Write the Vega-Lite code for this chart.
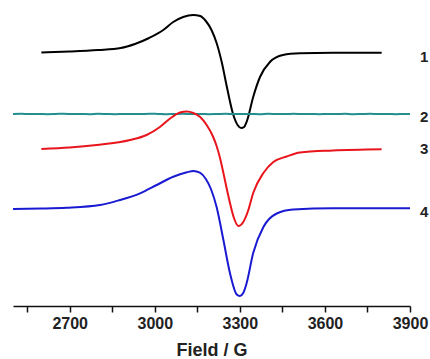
{
  "$schema": "https://vega.github.io/schema/vega-lite/v6.json",
  "width": 397,
  "height": 306,
  "autosize": {"type": "none"},
  "padding": {"left": 13, "top": 0, "right": 20, "bottom": 53},
  "background": "white",
  "config": {"view": {"stroke": null}, "font": "Liberation Sans"},
  "datasets": {
    "spectra": [
      {"s": "1", "f": 2600, "v": 253.5}, {"s": "1", "f": 2700, "v": 254.5}, {"s": "1", "f": 2800, "v": 256}, {"s": "1", "f": 2880, "v": 258}, {"s": "1", "f": 2930, "v": 262}, {"s": "1", "f": 2980, "v": 268}, {"s": "1", "f": 3030, "v": 276}, {"s": "1", "f": 3065, "v": 284}, {"s": "1", "f": 3100, "v": 289}, {"s": "1", "f": 3135, "v": 291}, {"s": "1", "f": 3160, "v": 290}, {"s": "1", "f": 3180, "v": 285}, {"s": "1", "f": 3200, "v": 276}, {"s": "1", "f": 3218, "v": 263}, {"s": "1", "f": 3236, "v": 244}, {"s": "1", "f": 3255, "v": 218}, {"s": "1", "f": 3276, "v": 192}, {"s": "1", "f": 3292, "v": 181}, {"s": "1", "f": 3305, "v": 178}, {"s": "1", "f": 3315, "v": 179}, {"s": "1", "f": 3325, "v": 185}, {"s": "1", "f": 3347, "v": 209}, {"s": "1", "f": 3371, "v": 229}, {"s": "1", "f": 3406, "v": 244}, {"s": "1", "f": 3452, "v": 251}, {"s": "1", "f": 3512, "v": 252.7}, {"s": "1", "f": 3628, "v": 253.3}, {"s": "1", "f": 3800, "v": 253.3},
      {"s": "2", "f": 2500, "v": 192.0}, {"s": "2", "f": 2530, "v": 192.2}, {"s": "2", "f": 2560, "v": 191.9}, {"s": "2", "f": 2590, "v": 192.1}, {"s": "2", "f": 2620, "v": 191.8}, {"s": "2", "f": 2650, "v": 192.0}, {"s": "2", "f": 2680, "v": 192.3}, {"s": "2", "f": 2710, "v": 191.9}, {"s": "2", "f": 2740, "v": 192.1}, {"s": "2", "f": 2770, "v": 191.8}, {"s": "2", "f": 2800, "v": 192.2}, {"s": "2", "f": 2830, "v": 192.0}, {"s": "2", "f": 2860, "v": 191.8}, {"s": "2", "f": 2890, "v": 192.1}, {"s": "2", "f": 2920, "v": 192.0}, {"s": "2", "f": 2950, "v": 191.9}, {"s": "2", "f": 2980, "v": 192.3}, {"s": "2", "f": 3010, "v": 192.1}, {"s": "2", "f": 3040, "v": 191.8}, {"s": "2", "f": 3070, "v": 192.0}, {"s": "2", "f": 3100, "v": 192.2}, {"s": "2", "f": 3130, "v": 191.9}, {"s": "2", "f": 3160, "v": 192.1}, {"s": "2", "f": 3190, "v": 191.8}, {"s": "2", "f": 3220, "v": 192.0}, {"s": "2", "f": 3250, "v": 192.2}, {"s": "2", "f": 3280, "v": 191.9}, {"s": "2", "f": 3310, "v": 192.1}, {"s": "2", "f": 3340, "v": 192.0}, {"s": "2", "f": 3370, "v": 191.8}, {"s": "2", "f": 3400, "v": 192.2}, {"s": "2", "f": 3430, "v": 192.0}, {"s": "2", "f": 3460, "v": 191.9}, {"s": "2", "f": 3490, "v": 192.3}, {"s": "2", "f": 3520, "v": 191.9}, {"s": "2", "f": 3550, "v": 192.1}, {"s": "2", "f": 3580, "v": 191.8}, {"s": "2", "f": 3610, "v": 192.1}, {"s": "2", "f": 3640, "v": 192.0}, {"s": "2", "f": 3670, "v": 192.2}, {"s": "2", "f": 3700, "v": 191.8}, {"s": "2", "f": 3730, "v": 192.0}, {"s": "2", "f": 3760, "v": 192.2}, {"s": "2", "f": 3790, "v": 191.9}, {"s": "2", "f": 3820, "v": 192.1}, {"s": "2", "f": 3850, "v": 191.8}, {"s": "2", "f": 3880, "v": 192.1}, {"s": "2", "f": 3900, "v": 192.0},
      {"s": "3", "f": 2600, "v": 157}, {"s": "3", "f": 2700, "v": 158.5}, {"s": "3", "f": 2795, "v": 161}, {"s": "3", "f": 2913, "v": 166}, {"s": "3", "f": 2971, "v": 171}, {"s": "3", "f": 3018, "v": 179}, {"s": "3", "f": 3054, "v": 187.5}, {"s": "3", "f": 3089, "v": 193.5}, {"s": "3", "f": 3113, "v": 194.5}, {"s": "3", "f": 3136, "v": 193}, {"s": "3", "f": 3160, "v": 189}, {"s": "3", "f": 3183, "v": 181}, {"s": "3", "f": 3206, "v": 169}, {"s": "3", "f": 3218, "v": 160}, {"s": "3", "f": 3230, "v": 148}, {"s": "3", "f": 3242, "v": 133}, {"s": "3", "f": 3254, "v": 117}, {"s": "3", "f": 3266, "v": 102}, {"s": "3", "f": 3278, "v": 89}, {"s": "3", "f": 3295, "v": 80}, {"s": "3", "f": 3312, "v": 84}, {"s": "3", "f": 3330, "v": 96}, {"s": "3", "f": 3347, "v": 113}, {"s": "3", "f": 3383, "v": 133}, {"s": "3", "f": 3418, "v": 144}, {"s": "3", "f": 3465, "v": 149.5}, {"s": "3", "f": 3512, "v": 153.5}, {"s": "3", "f": 3628, "v": 155.5}, {"s": "3", "f": 3800, "v": 156.7},
      {"s": "4", "f": 2500, "v": 97}, {"s": "4", "f": 2600, "v": 97.5}, {"s": "4", "f": 2689, "v": 98.3}, {"s": "4", "f": 2807, "v": 101}, {"s": "4", "f": 2877, "v": 106}, {"s": "4", "f": 2948, "v": 112.7}, {"s": "4", "f": 3007, "v": 121}, {"s": "4", "f": 3065, "v": 129.3}, {"s": "4", "f": 3113, "v": 133.7}, {"s": "4", "f": 3136, "v": 135}, {"s": "4", "f": 3159, "v": 133.3}, {"s": "4", "f": 3180, "v": 127}, {"s": "4", "f": 3198, "v": 117}, {"s": "4", "f": 3218, "v": 99}, {"s": "4", "f": 3242, "v": 66}, {"s": "4", "f": 3265, "v": 33}, {"s": "4", "f": 3289, "v": 11.5}, {"s": "4", "f": 3300, "v": 10}, {"s": "4", "f": 3312, "v": 13}, {"s": "4", "f": 3324, "v": 23}, {"s": "4", "f": 3347, "v": 53}, {"s": "4", "f": 3383, "v": 79}, {"s": "4", "f": 3430, "v": 92.5}, {"s": "4", "f": 3488, "v": 96.5}, {"s": "4", "f": 3628, "v": 97.7}, {"s": "4", "f": 3900, "v": 97.7}
    ],
    "labels": [
      {"s": "1", "f": 3950, "v": 249},
      {"s": "2", "f": 3950, "v": 189},
      {"s": "3", "f": 3950, "v": 157},
      {"s": "4", "f": 3950, "v": 94}
    ]
  },
  "layer": [
    {
      "data": {"name": "spectra"},
      "mark": {"type": "line", "strokeWidth": 2, "interpolate": "monotone", "clip": false},
      "encoding": {
        "x": {
          "field": "f", "type": "quantitative",
          "scale": {"domain": [2500, 3900], "nice": false, "zero": false},
          "axis": {
            "title": "Field / G",
            "values": [2550, 2700, 2850, 3000, 3150, 3300, 3450, 3600, 3750, 3900],
            "labelExpr": "datum.value % 300 == 0 ? datum.value : ''",
            "grid": false,
            "domainColor": "#111", "domainWidth": 1.5,
            "tickColor": "#111", "tickWidth": 1.5, "tickSize": 6,
            "labelFont": "Liberation Sans", "labelFontSize": 16, "labelFontWeight": "bold", "labelColor": "#222",
            "labelPadding": 3, "labelFlush": false, "labelOverlap": false,
            "titleFont": "Liberation Sans", "titleFontSize": 18, "titleFontWeight": "bold", "titleColor": "#222",
            "titlePadding": 10
          }
        },
        "y": {
          "field": "v", "type": "quantitative",
          "scale": {"domain": [0, 306], "nice": false, "zero": false},
          "axis": null
        },
        "color": {
          "field": "s", "type": "nominal",
          "scale": {"domain": ["1", "2", "3", "4"], "range": ["#000000", "#238e8e", "#e8161c", "#1a1ad2"]},
          "legend": null
        }
      }
    },
    {
      "data": {"name": "labels"},
      "mark": {"type": "text", "font": "Liberation Sans", "fontSize": 15, "fontWeight": "bold", "align": "center", "baseline": "middle", "color": "#222"},
      "encoding": {
        "x": {"field": "f", "type": "quantitative"},
        "y": {"field": "v", "type": "quantitative"},
        "text": {"field": "s"}
      }
    }
  ]
}
